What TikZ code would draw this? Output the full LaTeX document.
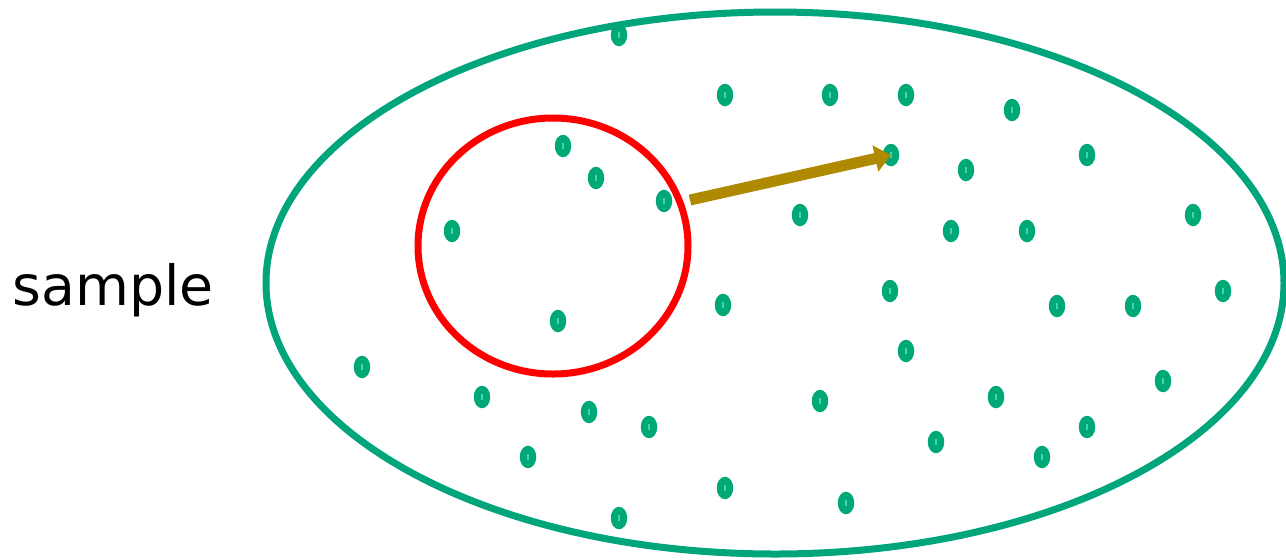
\documentclass[tikz,border=0pt]{standalone}
\usepackage{fontspec}
\setmainfont{DejaVu Sans}
\usetikzlibrary{positioning, arrows.meta, shapes.geometric}
\definecolor{popgreen}{HTML}{00A57B}
\definecolor{dotgreen}{HTML}{00A878}
\definecolor{dotlight}{HTML}{3FD9A8}
\definecolor{samplered}{HTML}{FF0000}
\definecolor{arrowgold}{HTML}{AF8A00}

\begin{document}
\begin{tikzpicture}[
    x=0.02cm, y=-0.02cm,
    dot/.style={ellipse, fill=dotgreen, minimum width=0.33cm, minimum height=0.45cm, inner sep=0pt,
        path picture={\fill[dotlight] ([xshift=-0.35pt,yshift=-1.8pt]path picture bounding box.center) rectangle ([xshift=0.35pt,yshift=1.8pt]path picture bounding box.center);}},
    arrow/.style={-{Triangle[length=0.32cm, width=0.52cm]}, line width=0.22cm, arrowgold},
    label/.style={font=\fontsize{31.5}{38}\selectfont},
]
\useasboundingbox (0,0) rectangle (1286,559);
% population and sample
\draw[popgreen, line width=0.14cm] (775,283) ellipse [x radius=509, y radius=271];
\draw[samplered, line width=0.14cm] (553,246) ellipse [x radius=135, y radius=128];
\node[label] (lbl) at (113,290) {sample};
% data points
\foreach \p [count=\i] in {(619,35), (725,95), (830,95), (906,95), (1012,110), (563,146), (891,155), (1087,155), (596,178), (966,170), (664,201), (800,215), (1193,215), (452,231), (951,231), (1027,231), (890,291), (1223,291), (723,305), (1057,306), (1133,306), (558,321), (906,351), (362,367), (1163,381), (482,397), (996,397), (589,412), (820,401), (649,427), (1087,427), (936,442), (528,457), (1042,457), (725,488), (846,503), (619,518)}
    \node[dot] (d\i) at \p {};
\coordinate (src) at (690,200);
\draw[arrow] (src) -- (d7.center);
\end{tikzpicture}
\end{document}
